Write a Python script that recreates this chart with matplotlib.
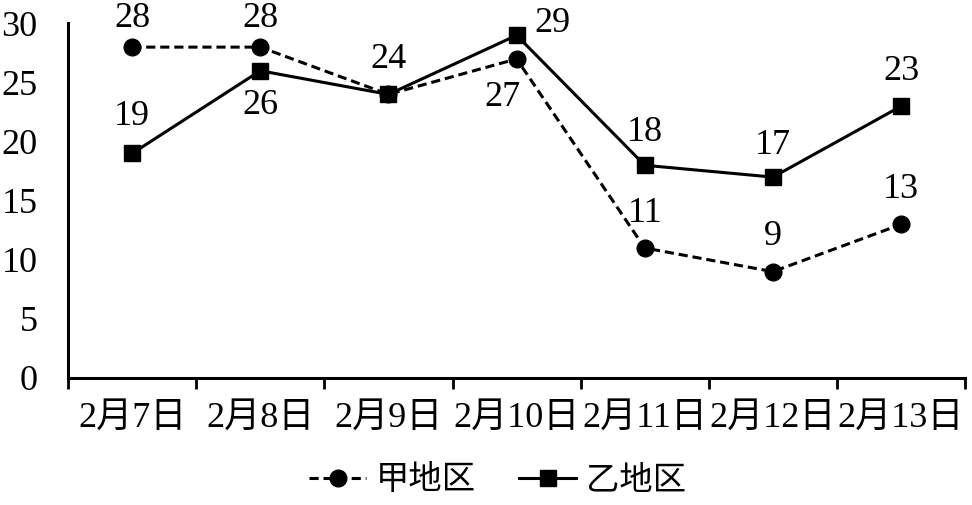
import matplotlib
matplotlib.use("Agg")
import matplotlib.pyplot as plt
import numpy as np

plt.rcParams['font.family'] = ['Liberation Serif', 'Noto Sans CJK SC']

categories = ["2月7日", "2月8日", "2月9日", "2月10日", "2月11日", "2月12日", "2月13日"]
jia = [28, 28, 24, 27, 11, 9, 13]
yi = [19, 26, 24, 29, 18, 17, 23]
series_names = ["甲地区", "乙地区"]

# label offsets of text centre in pixels (dx right, dy up)
jia_off = [(0, 29), (0, 29), (0, 35), (-14, -39), (0, 35), (0, 35), (0, 35)]
yi_off = [(0, 37), (0, -35), (0, 35), (36, 12), (0, 33), (0, 32), (0, 35)]

fig = plt.figure(figsize=(9.72, 5.05), dpi=100)
ax = fig.add_axes([0.07, 0.2515, 0.923, 0.702])
x = np.arange(len(categories))

ax.plot(x, jia, linestyle=(0, (3, 1.6)), color='black', lw=2.2, marker='o', markersize=12,
        label=series_names[0])
ax.plot(x, yi, linestyle='-', color='black', lw=2.2, marker='s', markersize=11.5,
        label=series_names[1])

fs = 26
drawn = set()
for vals, offs in ((jia, jia_off), (yi, yi_off)):
    for xi, v, (dx, dy) in zip(x, vals, offs):
        key = (int(xi), v, dx, dy)
        if key in drawn:
            continue  # identical label at the same spot: draw once
        drawn.add(key)
        ax.annotate(str(v), (xi, v), xytext=(dx * 0.72, dy * 0.72), textcoords='offset points',
                    ha='center', va='center', fontsize=fs)

ax.set_xlim(-0.5, len(categories) - 0.5)
ax.set_ylim(0, 30)
ax.set_yticks([0, 5, 10, 15, 20, 25, 30])
ax.tick_params(axis='y', length=0, labelsize=fs, pad=22)
ax.set_xticks(x)
ax.set_xticklabels(categories)
ax.set_xticks(np.arange(-0.5, len(categories), 1), minor=True)
ax.tick_params(axis='x', which='major', length=0, labelsize=fs, pad=17)
ax.tick_params(axis='x', which='minor', length=8, width=2, direction='out')
for s in ['top', 'right']:
    ax.spines[s].set_visible(False)
ax.spines['left'].set_linewidth(2.2)
ax.spines['bottom'].set_linewidth(2.2)

fig.legend(loc='center', bbox_to_anchor=(0.512, 1 - 481 / 505), ncol=2, frameon=False,
           fontsize=24, handlelength=1.7, columnspacing=1.3, handletextpad=0.3)

fig.savefig("out.png", dpi=100)
